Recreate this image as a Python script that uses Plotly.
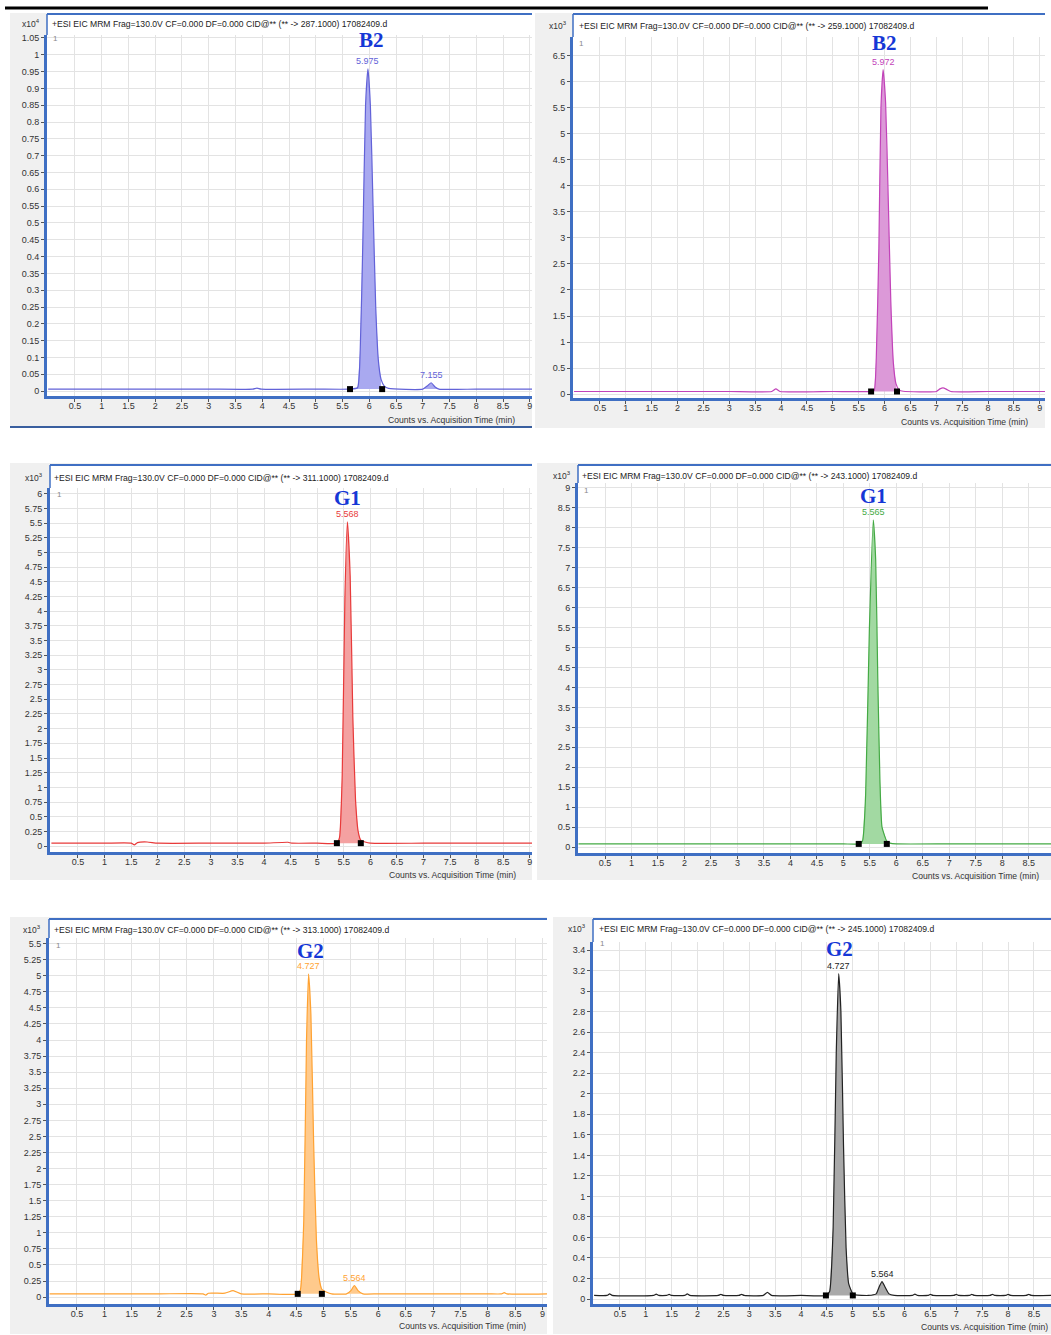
import plotly.graph_objects as go

W, H = 1051, 1335

# ---------------- chromatogram data (time in min, counts in axis units) ----------------
b2_287_time = [0.0, 1.0, 2.0, 3.0, 3.82, 3.9, 3.98, 5.0, 5.64, 5.78, 5.83, 5.88, 5.93, 5.975,
               6.02, 6.07, 6.12, 6.17, 6.22, 6.28, 6.36, 7.0, 7.08, 7.155, 7.23, 7.3, 8.0, 9.04]
b2_287_counts = [0.006, 0.006, 0.006, 0.006, 0.006, 0.009, 0.006, 0.006, 0.006, 0.01, 0.12, 0.45, 0.85, 0.958,
                 0.85, 0.55, 0.25, 0.09, 0.035, 0.015, 0.008, 0.006, 0.015, 0.025, 0.012, 0.006, 0.006, 0.006]
b2_287_window = [5.64, 6.24]
b2_287_minor = [7.0, 7.3]
b2_287_peaks = [5.975, 7.155]

b2_259_time = [0.0, 1.0, 2.0, 3.0, 3.82, 3.9, 3.98, 5.0, 5.74, 5.8, 5.84, 5.89, 5.93, 5.972,
               6.02, 6.07, 6.12, 6.17, 6.22, 6.28, 6.36, 7.0, 7.07, 7.13, 7.2, 7.28, 8.0, 9.1]
b2_259_counts = [0.05, 0.05, 0.05, 0.05, 0.05, 0.1, 0.05, 0.05, 0.05, 0.07, 0.7, 2.8, 5.5, 6.23,
                 5.6, 3.8, 1.8, 0.6, 0.2, 0.08, 0.055, 0.05, 0.1, 0.12, 0.09, 0.05, 0.05, 0.05]
b2_259_window = [5.74, 6.24]
b2_259_minor = None
b2_259_peaks = [5.972]

g1_311_time = [0.0, 1.0, 1.5, 1.56, 1.62, 1.8, 2.0, 3.0, 4.0, 4.45, 4.52, 5.0, 5.37, 5.42,
               5.47, 5.52, 5.568, 5.62, 5.67, 5.72, 5.77, 5.82, 5.9, 6.0, 7.0, 8.0, 9.04]
g1_311_counts = [0.05, 0.05, 0.05, 0.02, 0.06, 0.07, 0.05, 0.05, 0.05, 0.065, 0.05, 0.05, 0.05, 0.15,
                 1.2, 4.2, 5.52, 4.6, 2.2, 0.8, 0.25, 0.1, 0.07, 0.05, 0.05, 0.05, 0.05]
g1_311_window = [5.37, 5.82]
g1_311_minor = None
g1_311_peaks = [5.568]

g1_243_time = [0.0, 1.0, 2.0, 3.0, 4.0, 5.0, 5.29, 5.36, 5.42, 5.49, 5.565,
               5.61, 5.65, 5.69, 5.73, 5.82, 5.88, 6.0, 7.0, 8.0, 8.92]
g1_243_counts = [0.08, 0.08, 0.08, 0.08, 0.08, 0.08, 0.08, 0.15, 1.3, 5.4, 8.2,
                 7.2, 4.2, 1.7, 0.5, 0.15, 0.1, 0.08, 0.08, 0.08, 0.08]
g1_243_window = [5.29, 5.82]
g1_243_minor = None
g1_243_peaks = [5.565]

g2_313_time = [0.0, 1.0, 2.0, 2.8, 2.85, 2.9, 3.2, 3.35, 3.5, 4.0, 4.53, 4.58, 4.64, 4.69, 4.727,
               4.77, 4.82, 4.87, 4.92, 4.97, 5.05, 5.15, 5.42, 5.5, 5.564, 5.63, 5.72,
               6.0, 7.0, 8.0, 8.25, 8.3, 8.35, 9.08]
g2_313_counts = [0.05, 0.05, 0.05, 0.05, 0.03, 0.06, 0.06, 0.1, 0.05, 0.05, 0.05, 0.12, 1.2, 4.0, 5.03,
                 4.4, 2.4, 0.9, 0.3, 0.12, 0.08, 0.05, 0.05, 0.1, 0.18, 0.1, 0.05,
                 0.05, 0.05, 0.05, 0.05, 0.07, 0.05, 0.05]
g2_313_window = [4.53, 4.97]
g2_313_minor = [5.42, 5.72]
g2_313_peaks = [4.727, 5.564]

g2_245_time = [
    0.0, 0.25, 0.3, 0.35,
    1.15, 1.2, 1.25,
    1.4, 1.45, 1.5,
    1.75, 1.8, 1.85,
    2.4, 2.45, 2.5,
    2.8, 2.85, 2.9,
    3.27, 3.35, 3.43,
    4.0, 4.48,
    4.55, 4.62, 4.68, 4.727, 4.77, 4.82, 4.87, 4.92, 5.0, 5.05,
    5.3, 5.45, 5.51, 5.564, 5.62, 5.7, 5.8,
    6.15, 6.2, 6.25,
    6.45, 6.5, 6.55,
    6.95, 7.0, 7.05,
    7.25, 7.3, 7.35,
    7.65, 7.7, 7.75,
    7.95, 8.0, 8.05,
    8.35, 8.4, 8.45,
    8.83]
g2_245_counts = [
    0.035, 0.035, 0.05, 0.035,
    0.035, 0.048, 0.035,
    0.035, 0.045, 0.035,
    0.035, 0.05, 0.035,
    0.035, 0.045, 0.035,
    0.035, 0.045, 0.035,
    0.035, 0.065, 0.035,
    0.035, 0.035,
    0.07, 0.7, 2.4, 3.17, 2.8, 1.5, 0.5, 0.15, 0.05, 0.04,
    0.035, 0.05, 0.12, 0.17, 0.12, 0.05, 0.035,
    0.035, 0.048, 0.035,
    0.035, 0.045, 0.035,
    0.035, 0.045, 0.035,
    0.035, 0.045, 0.035,
    0.035, 0.045, 0.035,
    0.035, 0.045, 0.035,
    0.035, 0.045, 0.035,
    0.035]
g2_245_window = [4.48, 5.0]
g2_245_minor = [5.3, 5.8]
g2_245_peaks = [4.727, 5.564]

x_tick_values = [0.5, 1, 1.5, 2, 2.5, 3, 3.5, 4, 4.5, 5, 5.5, 6, 6.5, 7, 7.5, 8, 8.5, 9]
x_tick_labels = ["0.5", "1", "1.5", "2", "2.5", "3", "3.5", "4", "4.5", "5",
                 "5.5", "6", "6.5", "7", "7.5", "8", "8.5", "9"]

compounds = ["B2", "B2", "G1", "G1", "G2", "G2"]
transitions = ["287.1000", "259.1000", "311.1000", "243.1000", "313.1000", "245.1000"]
exponents = ["4", "3", "3", "3", "3", "3"]
y_tick_steps = [0.05, 0.5, 0.25, 0.5, 0.25, 0.2]
y_tick_tops = [1.05, 6.5, 6.0, 9.0, 5.5, 3.4]

series = [
    (b2_287_time, b2_287_counts, b2_287_window, b2_287_minor, b2_287_peaks),
    (b2_259_time, b2_259_counts, b2_259_window, b2_259_minor, b2_259_peaks),
    (g1_311_time, g1_311_counts, g1_311_window, g1_311_minor, g1_311_peaks),
    (g1_243_time, g1_243_counts, g1_243_window, g1_243_minor, g1_243_peaks),
    (g2_313_time, g2_313_counts, g2_313_window, g2_313_minor, g2_313_peaks),
    (g2_245_time, g2_245_counts, g2_245_window, g2_245_minor, g2_245_peaks),
]

# ---------------- layout of each chromatogram window (pixels) ----------------
panels = [
    dict(frame=(10, 11, 532, 427), white=(47, 12, 532, 395), xdom=(47, 532), ydom=(33, 395),
         xr=(-0.022, 9.04), yr=(-0.0148, 1.059), head=(50, 22), mult=(42, 22), one=(51, 37),
         title=(371, 38), caption=(451, 419),
         line="#6262d8", fill="#a9a9f0"),
    dict(frame=(535, 11, 1045, 427), white=(573, 12, 1045, 397), xdom=(573, 1045), ydom=(35, 397),
         xr=(-0.02, 9.10), yr=(-0.077, 6.86), head=(577, 24), mult=(569, 24), one=(577, 42),
         title=(884, 41), caption=(964, 421),
         line="#c243b9", fill="#dc99d8"),
    dict(frame=(10, 462, 532, 880), white=(50, 464, 532, 852), xdom=(50, 532), ydom=(487, 852),
         xr=(-0.026, 9.04), yr=(-0.102, 6.10), head=(52, 477), mult=(45, 477), one=(55, 494),
         title=(347, 497), caption=(452, 875),
         line="#e83a3a", fill="#f4a1a1"),
    dict(frame=(537, 462, 1051, 880), white=(578, 464, 1051, 853), xdom=(578, 1051), ydom=(482, 853),
         xr=(-0.01, 8.92), yr=(-0.15, 9.125), head=(580, 475), mult=(573, 475), one=(582, 490),
         title=(873, 495), caption=(975, 876),
         line="#44aa44", fill="#a2d9a2"),
    dict(frame=(10, 917, 547, 1335), white=(49, 919, 547, 1305), xdom=(49, 547), ydom=(938, 1305),
         xr=(-0.011, 9.08), yr=(-0.109, 5.59), head=(52, 930), mult=(43, 930), one=(54, 946),
         title=(310, 951), caption=(462, 1327),
         line="#ffa232", fill="#ffca8c"),
    dict(frame=(553, 917, 1051, 1335), white=(593, 919, 1051, 1305), xdom=(593, 1051), ydom=(942, 1305),
         xr=(-0.021, 8.83), yr=(-0.049, 3.48), head=(597, 929), mult=(588, 929), one=(598, 944),
         title=(839, 949), caption=(984, 1328),
         line="#222222", fill="#a9a9a9"),
]

FONT = "Liberation Sans, Arial, sans-serif"
SERIF = "Liberation Serif, Times New Roman, serif"
BLUE = "#3f6fc3"
GRID = "#e3e3e3"
GRAY_BG = "#f0f0f0"
TEXT = "#333333"


def px(x):
    return x / W


def py(y):
    return 1 - y / H


fig = go.Figure()
shapes = []
annotations = []
layout_axes = {}

for k, (p, (t, c, window, minor, peaks)) in enumerate(zip(panels, series), start=1):
    xa = "x" if k == 1 else f"x{k}"
    ya = "y" if k == 1 else f"y{k}"
    base = c[0]

    # frame and plot backgrounds
    fx0, fy0, fx1, fy1 = p["frame"]
    shapes.append(dict(type="rect", xref="paper", yref="paper", layer="below",
                       x0=px(fx0), x1=px(fx1), y0=py(fy1), y1=py(fy0),
                       fillcolor=GRAY_BG, line=dict(width=0)))
    wx0, wy0, wx1, wy1 = p["white"]
    shapes.append(dict(type="rect", xref="paper", yref="paper", layer="below",
                       x0=px(wx0), x1=px(wx1), y0=py(wy1), y1=py(wy0),
                       fillcolor="white", line=dict(width=0)))
    shapes.append(dict(type="line", xref="paper", yref="paper", layer="below",
                       x0=px(wx0), x1=px(wx1), y0=py(wy0), y1=py(wy0),
                       line=dict(color=BLUE, width=2)))
    shapes.append(dict(type="line", xref="paper", yref="paper", layer="below",
                       x0=px(wx0), x1=px(wx0), y0=py(p["ydom"][0]), y1=py(wy0),
                       line=dict(color=BLUE, width=1.5)))

    # filled integration areas
    for rng in [window] + ([minor] if minor else []):
        seg = [(ti, ci) for ti, ci in zip(t, c) if rng[0] <= ti <= rng[1]]
        fx = [s[0] for s in seg] + [seg[-1][0], seg[0][0]]
        fy = [s[1] for s in seg] + [base, base]
        fig.add_trace(go.Scatter(x=fx, y=fy, xaxis=xa, yaxis=ya, mode="lines",
                                 fill="toself", fillcolor=p["fill"],
                                 line=dict(width=0), hoverinfo="skip", showlegend=False))

    # chromatogram trace
    fig.add_trace(go.Scatter(x=t, y=c, xaxis=xa, yaxis=ya, mode="lines",
                             line=dict(color=p["line"], width=1.2, shape="spline", smoothing=0.5),
                             showlegend=False))

    # integration markers
    fig.add_trace(go.Scatter(x=window, y=[base, base], xaxis=xa, yaxis=ya, mode="markers",
                             marker=dict(symbol="square", size=6, color="black"),
                             showlegend=False))

    # retention time labels
    for rt in peaks:
        h = c[t.index(rt)]
        annotations.append(dict(x=rt, y=h, xref=xa, yref=ya, text=f"{rt:.3f}",
                                showarrow=False, yanchor="bottom", yshift=1,
                                font=dict(family=FONT, size=9, color=p["line"])))

    # axes
    step = y_tick_steps[k - 1]
    n = int(round(y_tick_tops[k - 1] / step))
    yvals = [round(i * step, 3) for i in range(n + 1)]
    ylabels = [f"{v:g}" for v in yvals]
    layout_axes["xaxis" if k == 1 else f"xaxis{k}"] = dict(
        domain=[px(p["xdom"][0]), px(p["xdom"][1])], range=list(p["xr"]), anchor=ya,
        tickvals=x_tick_values, ticktext=x_tick_labels,
        showgrid=True, gridcolor=GRID, gridwidth=1, zeroline=False,
        showline=True, linecolor=BLUE, linewidth=3,
        ticks="outside", ticklen=3, tickwidth=1, tickcolor="#555555",
        ticklabelstandoff=-4,
        tickfont=dict(family=FONT, size=9, color=TEXT), fixedrange=True)
    layout_axes["yaxis" if k == 1 else f"yaxis{k}"] = dict(
        domain=[py(p["ydom"][1]), py(p["ydom"][0])], range=list(p["yr"]), anchor=xa,
        tickvals=yvals, ticktext=ylabels,
        showgrid=True, gridcolor=GRID, gridwidth=1, zeroline=False,
        showline=True, linecolor=BLUE, linewidth=3,
        ticks="outside", ticklen=3, tickwidth=1, tickcolor="#555555",
        tickfont=dict(family=FONT, size=9, color=TEXT), fixedrange=True)

    # texts
    header = f"+ESI EIC MRM Frag=130.0V CF=0.000 DF=0.000 CID@** (** -> {transitions[k - 1]}) 17082409.d"
    annotations.append(dict(x=px(p["head"][0]), y=py(p["head"][1]), xref="paper", yref="paper",
                            text=header, showarrow=False, xanchor="left", yanchor="middle",
                            font=dict(family=FONT, size=8.6, color="#222222")))
    annotations.append(dict(x=px(p["mult"][0]), y=py(p["mult"][1]), xref="paper", yref="paper",
                            text=f"x10<sup>{exponents[k - 1]}</sup>", showarrow=False,
                            xanchor="right", yanchor="middle",
                            font=dict(family=FONT, size=8.5, color=TEXT)))
    annotations.append(dict(x=px(p["one"][0]), y=py(p["one"][1]), xref="paper", yref="paper",
                            text="1", showarrow=False, xanchor="left", yanchor="middle",
                            font=dict(family=FONT, size=8, color="#8a8a8a")))
    annotations.append(dict(x=px(p["title"][0]), y=py(p["title"][1]), xref="paper", yref="paper",
                            text=f"<b>{compounds[k - 1]}</b>", showarrow=False,
                            xanchor="center", yanchor="middle",
                            font=dict(family=SERIF, size=21, color="#1537d6")))
    annotations.append(dict(x=px(p["caption"][0]), y=py(p["caption"][1]), xref="paper", yref="paper",
                            text="Counts vs. Acquisition Time (min)", showarrow=False,
                            xanchor="center", yanchor="middle",
                            font=dict(family=FONT, size=8.6, color=TEXT)))

# page rules around the figure
shapes.append(dict(type="line", xref="paper", yref="paper", x0=px(5), x1=px(988),
                   y0=py(6), y1=py(6), line=dict(color="black", width=3)))
shapes.append(dict(type="line", xref="paper", yref="paper", x0=px(10), x1=px(532),
                   y0=py(426), y1=py(426), line=dict(color="#3a5f9f", width=2)))

fig.update_layout(
    width=W, height=H, margin=dict(l=0, r=0, t=0, b=0),
    paper_bgcolor="white", plot_bgcolor="rgba(0,0,0,0)",
    shapes=shapes, annotations=annotations, showlegend=False,
    **layout_axes,
)

fig.write_html("out.html")
